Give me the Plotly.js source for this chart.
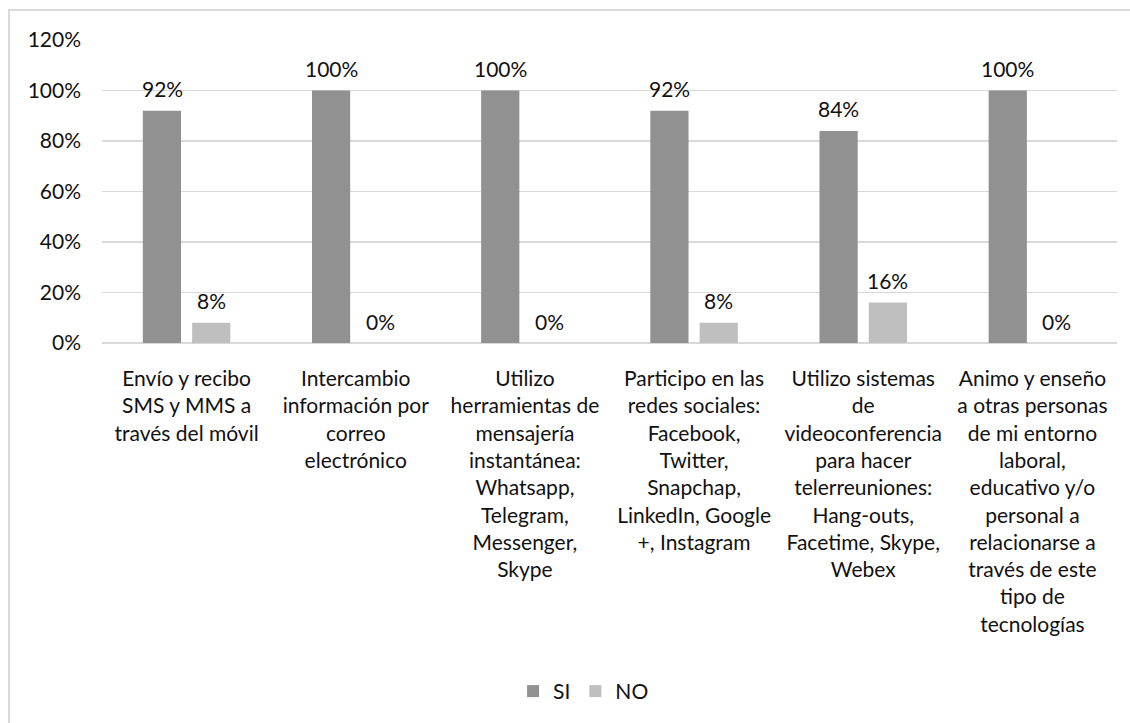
<!DOCTYPE html>
<html>
<head>
<meta charset="utf-8">
<script src="https://cdn.plot.ly/plotly-3.0.1.min.js"></script>
<style>
body{margin:0;padding:0;background:#fff;}
#chart{width:1130px;height:723px;position:absolute;left:0;top:0;}
#frame{position:absolute;left:8px;top:9px;width:1200px;height:800px;border:2px solid #d9d9d9;pointer-events:none;}
</style>
</head>
<body>
<div id="chart"></div>
<div id="frame"></div>
<script>
const categories = [
  "Envío y recibo<br>SMS y MMS a<br>través del móvil",
  "Intercambio<br>información por<br>correo<br>electrónico",
  "Utilizo<br>herramientas de<br>mensajería<br>instantánea:<br>Whatsapp,<br>Telegram,<br>Messenger,<br>Skype",
  "Participo en las<br>redes sociales:<br>Facebook,<br>Twitter,<br>Snapchap,<br>LinkedIn, Google<br>+, Instagram",
  "Utilizo sistemas<br>de<br>videoconferencia<br>para hacer<br>telerreuniones:<br>Hang-outs,<br>Facetime, Skype,<br>Webex",
  "Animo y enseño<br>a otras personas<br>de mi entorno<br>laboral,<br>educativo y/o<br>personal a<br>relacionarse a<br>través de este<br>tipo de<br>tecnologías"
];
const siValues = [0.92, 1.00, 1.00, 0.92, 0.84, 1.00];
const noValues = [0.08, 0.00, 0.00, 0.08, 0.16, 0.00];
const seriesNames = ["SI", "NO"];
const yTicks = [0, 0.2, 0.4, 0.6, 0.8, 1.0, 1.2];

const FONT = "Lato, 'Open Sans', sans-serif";
const FS = 21;
const traces = [
  {type:"bar", name:seriesNames[0], x:categories, y:siValues, marker:{color:"#919191"}, hoverinfo:"none"},
  {type:"bar", name:seriesNames[1], x:categories, y:noValues, marker:{color:"#bfbfbf"}, hoverinfo:"none"}
];
const annotations = [];
[siValues, noValues].forEach((vals, s) => {
  vals.forEach((v, i) => {
    annotations.push({
      x: categories[i], y: v, xref:"x", yref:"y",
      text: Math.round(v*100) + "%",
      showarrow:false, xshift: s===0 ? -24.5 : 24.5, yshift: 22,
      yanchor:"middle", xanchor:"center",
      font:{family:FONT, size:FS, color:"#111"}
    });
  });
});
const layout = {
  width:1130, height:723,
  margin:{l:102, r:13, t:40, b:380},
  paper_bgcolor:"rgba(0,0,0,0)", plot_bgcolor:"#fff",
  barmode:"group", bargap:0.417, bargroupgap:0.225,
  font:{family:FONT, size:FS, color:"#111"},
  xaxis:{type:"category", showgrid:false, showline:false, ticks:"", ticklabelstandoff:21,
         tickfont:{family:FONT, size:FS, color:"#111"}, fixedrange:true},
  yaxis:{range:[0,1.2], tickvals:yTicks, tickformat:".0%", showgrid:true, gridcolor:"#d9d9d9", gridwidth:1.5,
         zeroline:true, zerolinecolor:"#d9d9d9", zerolinewidth:1.5, showline:false, ticks:"",
         ticklabelstandoff:20, tickfont:{family:FONT, size:FS, color:"#111"}, fixedrange:true},
  showlegend:true,
  legend:{orientation:"h", x:0.405, xanchor:"left", y:-1.15, yanchor:"middle",
          font:{family:FONT, size:FS, color:"#111"}, itemwidth:30, traceorder:"normal", tracegroupgap:0},
  annotations: annotations
};
Plotly.newPlot("chart", traces, layout, {staticPlot:true, displayModeBar:false});
</script>
</body>
</html>
